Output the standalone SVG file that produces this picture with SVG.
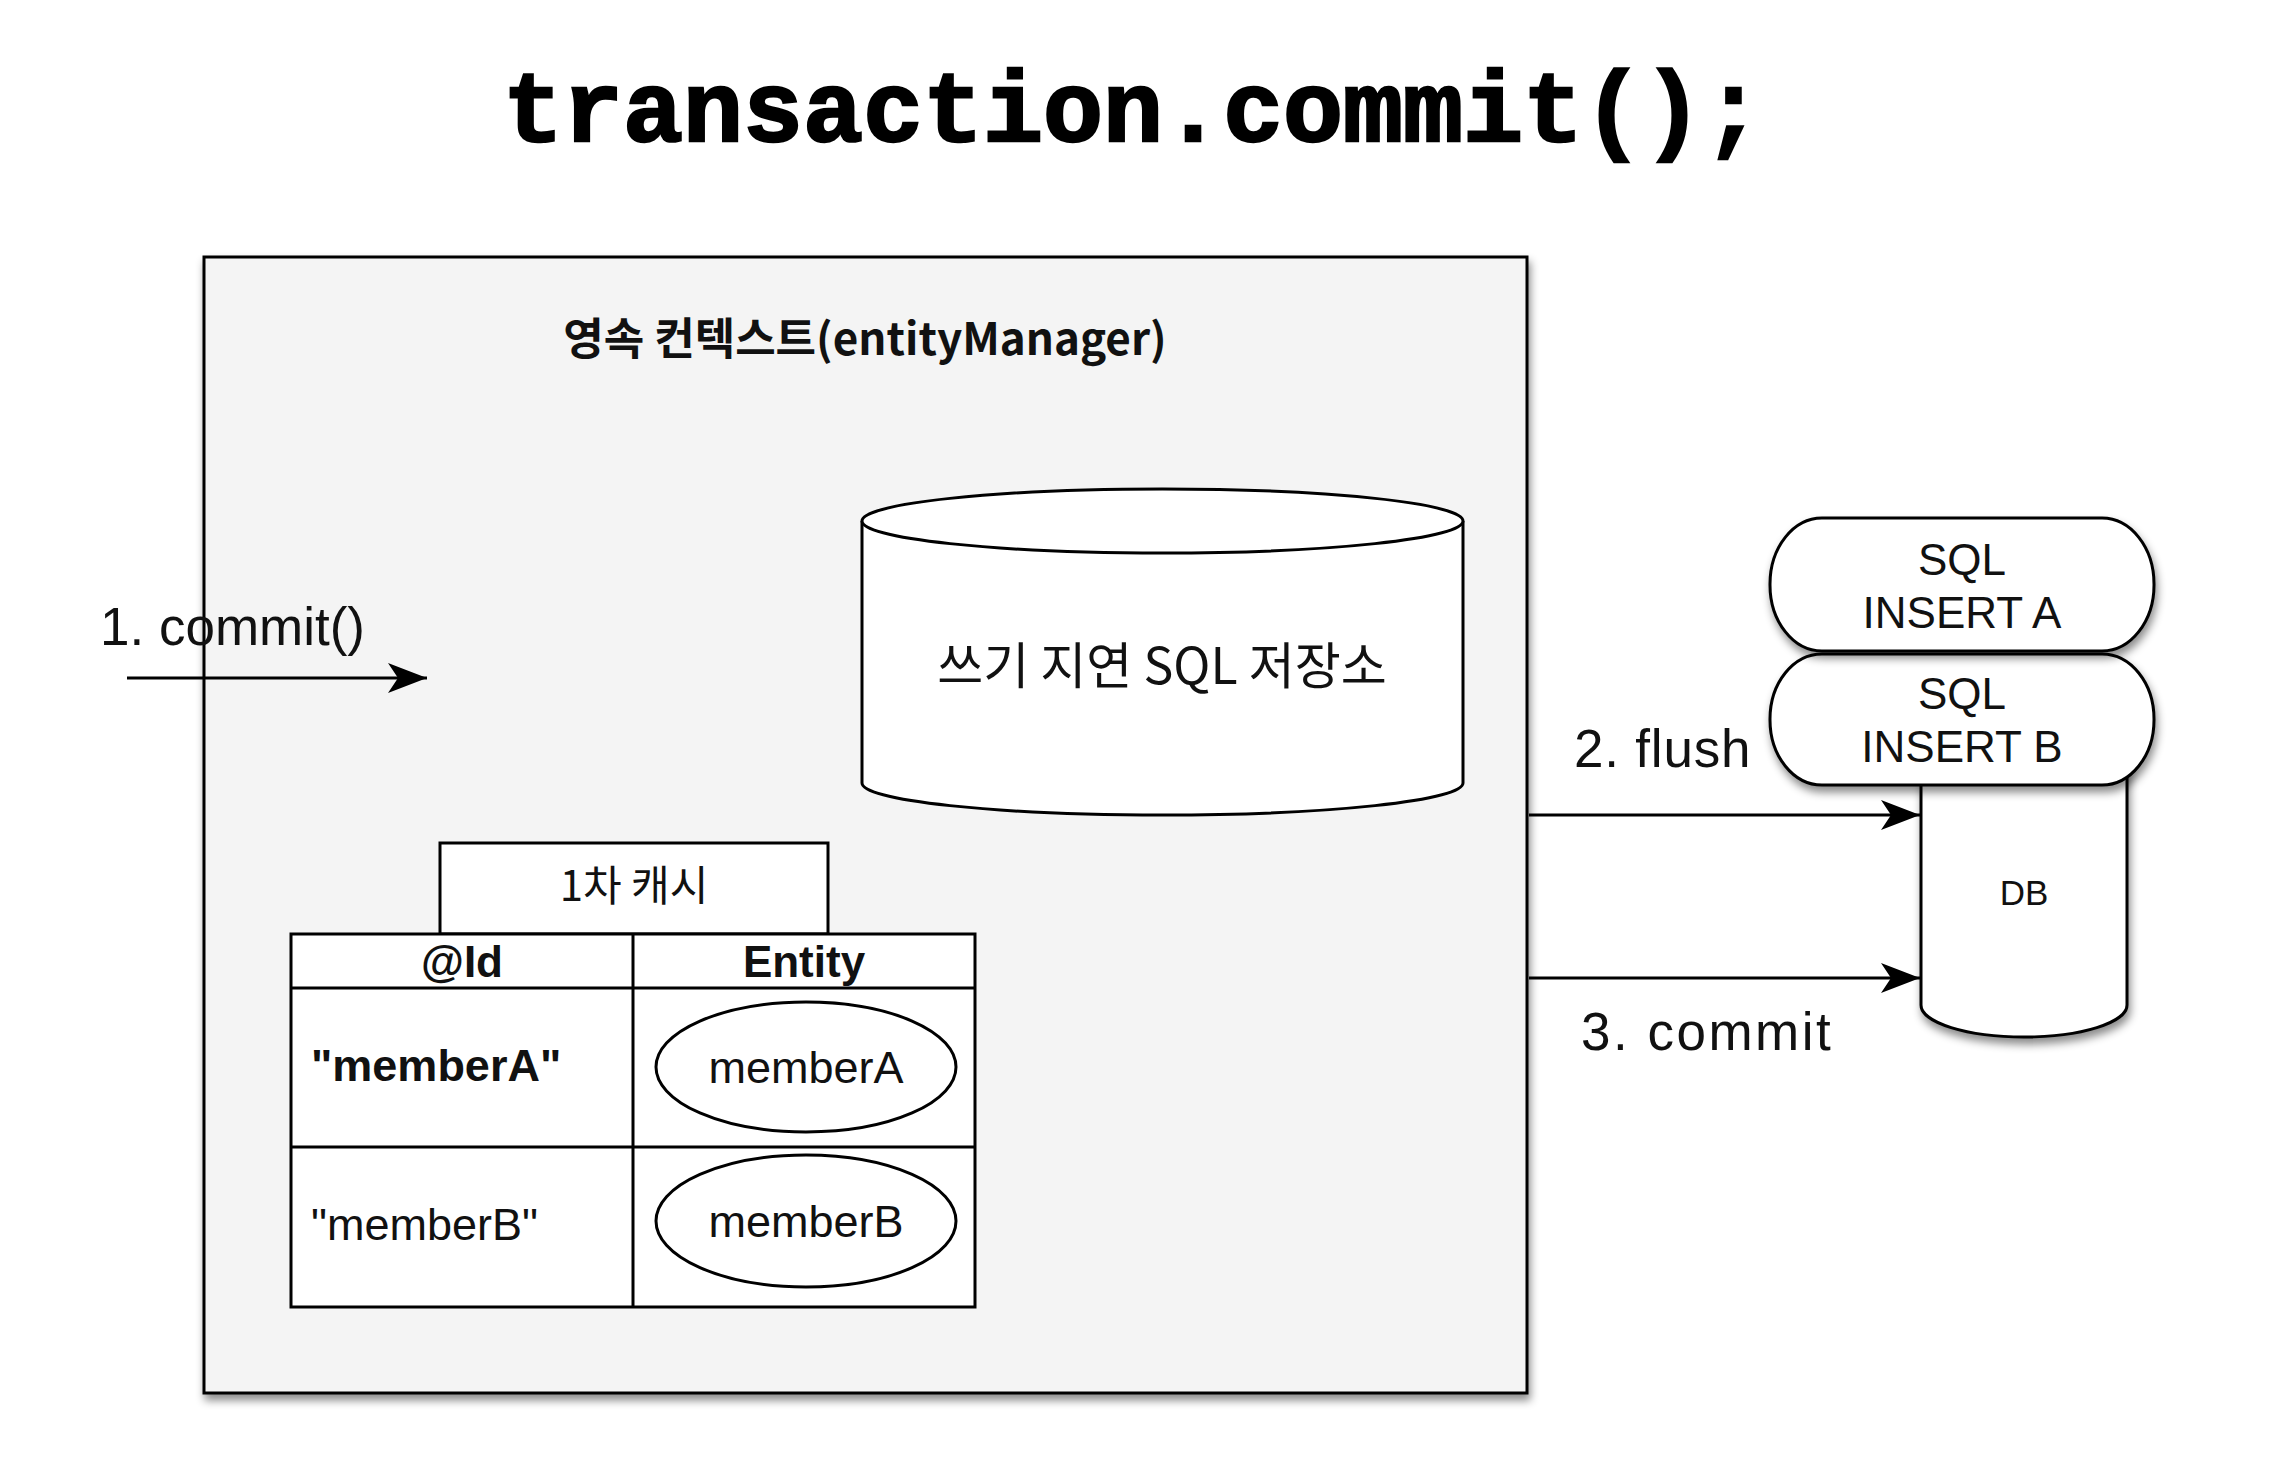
<svg xmlns="http://www.w3.org/2000/svg" width="2282" height="1465" viewBox="0 0 2282 1465">
  <style>
    .ln { fill: none; stroke: #000; stroke-width: 3; }
    .sh { fill: #fff; stroke: #000; stroke-width: 3; }
    .lat { font-family: "Liberation Sans", Arial, sans-serif; fill: #111; }
    .kr { font-family: "Noto Sans CJK KR", "Noto Sans", sans-serif; fill: #111; }
    .mid { text-anchor: middle; }
  </style>
  <defs>
    <filter id="shadow" x="-10%" y="-10%" width="130%" height="130%">
      <feDropShadow dx="2" dy="6" stdDeviation="4" flood-color="#000" flood-opacity="0.45"/>
    </filter>
    <marker id="arrow" markerUnits="userSpaceOnUse" markerWidth="42" markerHeight="32" refX="40" refY="15" orient="auto">
      <path d="M1,0 L40,15 L1,30 L11,15 Z" fill="#000"/>
    </marker>
  </defs>

  <rect width="2282" height="1465" fill="#fff"/>

  <g id="title">
    <text x="1133" y="141" class="mid" font-family="'Liberation Mono', 'Courier New', monospace" font-weight="bold" font-size="100" fill="#000" stroke="#000" stroke-width="2.5">transaction.commit();</text>
  </g>

  <g id="persistence-context">
    <rect x="204" y="257" width="1323" height="1136" fill="#f4f4f4" stroke="#000" stroke-width="3" filter="url(#shadow)"/>
    <text x="865" y="355" class="kr mid" font-size="44" font-weight="bold">영속 컨텍스트(entityManager)</text>
  </g>

  <g id="sql-store">
    <path class="sh" d="M862,521 L862,783 A300.5,32 0 0 0 1463,783 L1463,521"/>
    <ellipse class="sh" cx="1162.5" cy="521" rx="300.5" ry="32"/>
    <text x="1162" y="684" class="kr mid" font-size="50">쓰기 지연 SQL 저장소</text>
  </g>

  <g id="first-cache">
    <rect class="sh" x="440" y="843" width="388" height="91"/>
    <text x="634" y="901" class="kr mid" font-size="42">1차 캐시</text>
    <rect class="sh" x="291" y="934" width="684" height="373"/>
    <line class="ln" x1="633" y1="934" x2="633" y2="1307"/>
    <line class="ln" x1="291" y1="988" x2="975" y2="988"/>
    <line class="ln" x1="291" y1="1147" x2="975" y2="1147"/>
    <text x="462" y="977" class="lat mid" font-size="44" font-weight="bold">@Id</text>
    <text x="804" y="977" class="lat mid" font-size="44" font-weight="bold">Entity</text>
    <text x="311" y="1081" class="lat" font-size="45" font-weight="bold">"memberA"</text>
    <text x="311" y="1240" class="lat" font-size="45">"memberB"</text>
  </g>

  <g id="entity-memberA">
    <ellipse class="sh" cx="806" cy="1067" rx="150" ry="65"/>
    <text x="806" y="1083" class="lat mid" font-size="45">memberA</text>
  </g>

  <g id="entity-memberB">
    <ellipse class="sh" cx="806" cy="1221" rx="150" ry="66"/>
    <text x="806" y="1237" class="lat mid" font-size="45">memberB</text>
  </g>

  <g id="db">
    <path d="M1921,720 L1921,1005 A103,32 0 0 0 2127,1005 L2127,720 Z" fill="#fff" stroke="#000" stroke-width="3" filter="url(#shadow)"/>
    <text x="2024" y="905" class="lat mid" font-size="35">DB</text>
  </g>

  <g id="sql-insert-b">
    <rect x="1770" y="654" width="384" height="131" rx="52" ry="65" fill="#fff" stroke="#000" stroke-width="3" filter="url(#shadow)"/>
    <text x="1962" y="709" class="lat mid" font-size="44">SQL</text>
    <text x="1962" y="762" class="lat mid" font-size="44">INSERT B</text>
  </g>

  <g id="sql-insert-a">
    <rect x="1770" y="518" width="384" height="133" rx="52" ry="66" fill="#fff" stroke="#000" stroke-width="3" filter="url(#shadow)"/>
    <text x="1962" y="575" class="lat mid" font-size="44">SQL</text>
    <text x="1962" y="628" class="lat mid" font-size="44">INSERT A</text>
  </g>

  <g id="connectors">
    <line class="ln" x1="127" y1="678" x2="427" y2="678" marker-end="url(#arrow)"/>
    <text x="100" y="645" class="lat" font-size="53">1. commit()</text>
    <line class="ln" x1="1529" y1="815" x2="1920" y2="815" marker-end="url(#arrow)"/>
    <text x="1574" y="767" class="lat" font-size="53" letter-spacing="0.8">2. flush</text>
    <line class="ln" x1="1529" y1="978" x2="1920" y2="978" marker-end="url(#arrow)"/>
    <text x="1581" y="1050" class="lat" font-size="53" letter-spacing="2.5">3. commit</text>
  </g>
</svg>
